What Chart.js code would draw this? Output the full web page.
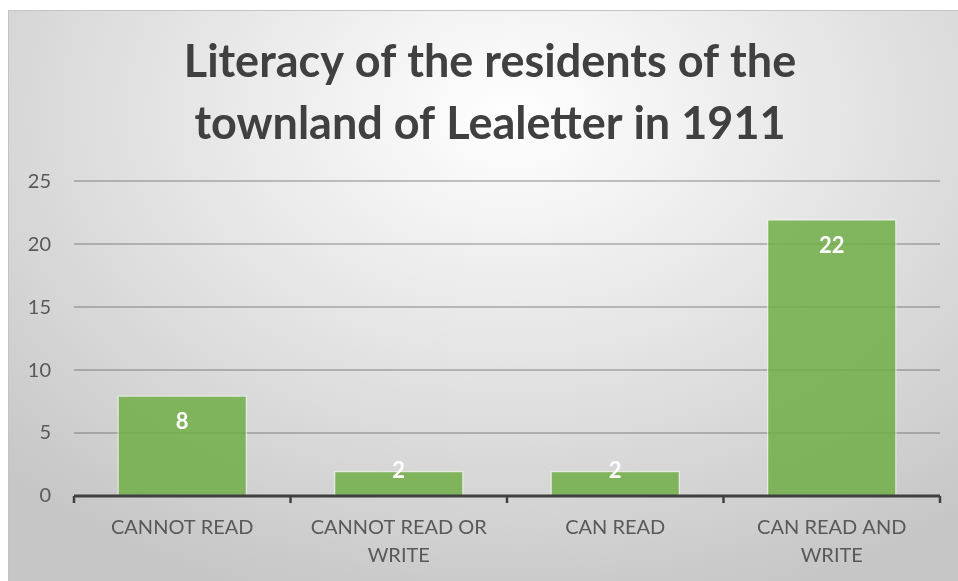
<!DOCTYPE html>
<html>
<head>
<meta charset="utf-8">
<script src="https://cdn.jsdelivr.net/npm/chart.js@4.4.0/dist/chart.umd.min.js"></script>
<style>
  html, body { margin: 0; padding: 0; background: #fff; }
  #frame {
    position: absolute; left: 8px; top: 10px; width: 950px; height: 571px;
    box-sizing: border-box; border-top: 1px solid #c4c4c4; border-left: 1px solid #c4c4c4;
    background: radial-gradient(ellipse 75% 90% at 53% 18%, #ffffff 0%, #e6e6e6 45%, #d2d2d2 80%, #c6c6c6 100%);
  }
  canvas { display: block; }
</style>
</head>
<body>
<div id="frame"><canvas id="chart" width="949" height="570"></canvas></div>
<script>
// datos
const categories = [['CANNOT READ'], ['CANNOT READ OR', 'WRITE'], ['CAN READ'], ['CAN READ AND', 'WRITE']];
const residents = [8, 2, 2, 22];
const yTicks = [0, 5, 10, 15, 20, 25];
const chartTitle = ['Literacy of the residents of the', 'townland of Lealetter in 1911'];

const fontFamily = "Lato, 'Liberation Sans', sans-serif";

// etiquetas blancas dentro de la barra (como Excel "inside end")
const barLabels = {
  id: 'barLabels',
  afterDatasetsDraw(chart) {
    const ctx = chart.ctx;
    const meta = chart.getDatasetMeta(0);
    ctx.save();
    ctx.fillStyle = '#ffffff';
    ctx.font = "bold 22px " + fontFamily;
    ctx.textAlign = 'center';
    ctx.textBaseline = 'middle';
    meta.data.forEach((bar, i) => {
      const h = bar.base - bar.y;
      const y = h > 50 ? bar.y + 27 : bar.y;
      ctx.fillText(String(residents[i]), bar.x, y);
    });
    ctx.restore();
  }
};

// linea del eje y marcas debajo
const axisLine = {
  id: 'axisLine',
  afterDatasetsDraw(chart) {
    const ctx = chart.ctx;
    const area = chart.chartArea;
    const y = chart.scales.y.getPixelForValue(0);
    ctx.save();
    ctx.strokeStyle = '#404040';
    ctx.lineWidth = 3;
    ctx.beginPath();
    ctx.moveTo(area.left, y);
    ctx.lineTo(area.right, y);
    ctx.stroke();
    ctx.lineWidth = 2.5;
    const step = (area.right - area.left) / categories.length;
    for (let i = 0; i <= categories.length; i++) {
      const x = area.left + step * i;
      ctx.beginPath();
      ctx.moveTo(x, y);
      ctx.lineTo(x, y + 7);
      ctx.stroke();
    }
    ctx.restore();
  }
};

// el titulo en Excel queda un poco a la derecha del centro
const titleShift = {
  id: 'titleShift',
  afterLayout(chart) {
    if (chart.titleBlock) chart.titleBlock.left += 31;
  }
};

const ctx = document.getElementById('chart').getContext('2d');
new Chart(ctx, {
  type: 'bar',
  data: {
    labels: categories,
    datasets: [{
      data: residents,
      backgroundColor: 'rgba(112, 173, 71, 0.85)',
      borderColor: 'rgba(235, 245, 230, 0.7)',
      borderWidth: 1.5,
      barPercentage: 0.6,
      categoryPercentage: 1.0
    }]
  },
  options: {
    responsive: false,
    animation: false,
    layout: { padding: { left: 0, right: 18, top: 20, bottom: -7 } },
    plugins: {
      legend: { display: false },
      tooltip: { enabled: false },
      title: {
        display: true,
        text: chartTitle,
        color: '#404040',
        font: { family: fontFamily, size: 45, weight: 'bold', lineHeight: 1.38 },
        padding: { top: 0, bottom: 26 }
      }
    },
    scales: {
      x: {
        grid: { display: false, drawTicks: false },
        border: { display: false },
        ticks: {
          color: '#595959',
          font: { family: fontFamily, size: 20, lineHeight: 1.4 },
          padding: 18,
          maxRotation: 0,
          autoSkip: false
        }
      },
      y: {
        min: 0,
        max: 25,
        afterBuildTicks(axis) { axis.ticks = yTicks.map(v => ({ value: v })); },
        afterFit(axis) { axis.width = 65; },
        grid: { color: 'rgba(90, 90, 90, 0.35)', lineWidth: 2, drawTicks: false },
        border: { display: false },
        ticks: {
          color: '#595959',
          font: { family: fontFamily, size: 20 },
          padding: 23
        }
      }
    }
  },
  plugins: [barLabels, axisLine, titleShift]
});
</script>
</body>
</html>
